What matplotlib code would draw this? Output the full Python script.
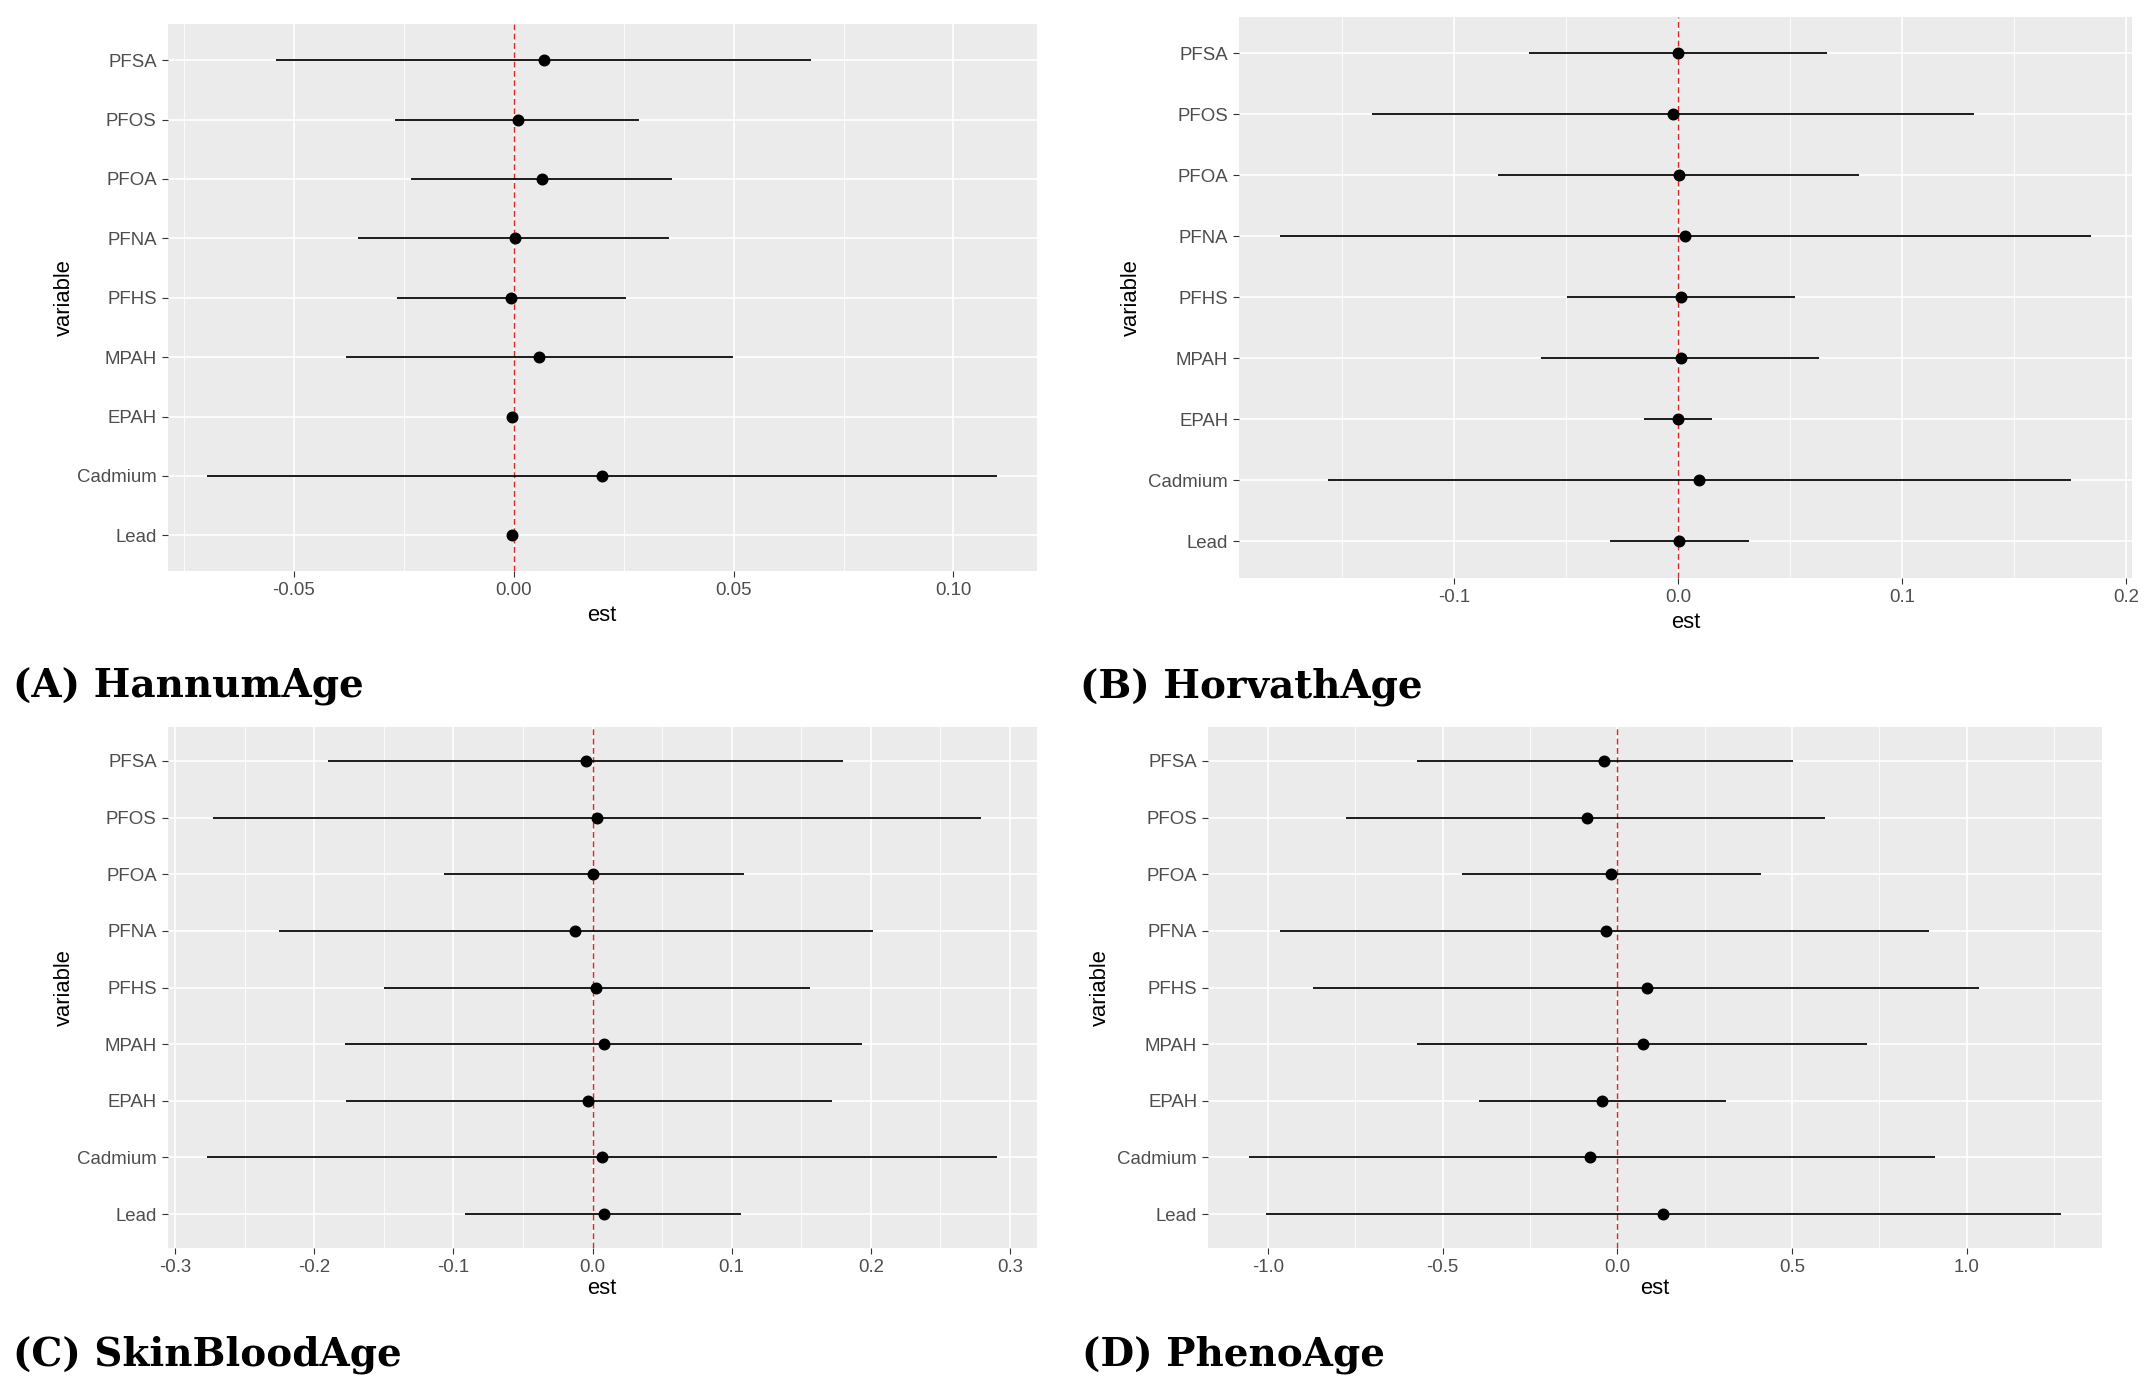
import matplotlib
matplotlib.use("Agg")
import matplotlib.pyplot as plt
from matplotlib.ticker import MultipleLocator, FormatStrFormatter
import numpy as np

plt.rcParams['axes.unicode_minus'] = False

# ---------------- data ----------------
variables = ["PFSA", "PFOS", "PFOA", "PFNA", "PFHS", "MPAH", "EPAH", "Cadmium", "Lead"]

hannum_est = [0.0068, 0.0009, 0.0064, 0.0003, -0.0006, 0.0058, -0.0003, 0.0202, -0.0003]
hannum_lo = [-0.0540, -0.0269, -0.0233, -0.0353, -0.0264, -0.0381, -0.0008, -0.0697, -0.0008]
hannum_hi = [0.0675, 0.0286, 0.0361, 0.0353, 0.0256, 0.0498, 0.0003, 0.1100, 0.0003]

horvath_est = [0.0000, -0.0021, 0.0006, 0.0031, 0.0012, 0.0012, 0.0000, 0.0092, 0.0006]
horvath_lo = [-0.0664, -0.1364, -0.0804, -0.1777, -0.0495, -0.0612, -0.0153, -0.1563, -0.0303]
horvath_hi = [0.0664, 0.1321, 0.0807, 0.1844, 0.0520, 0.0630, 0.0150, 0.1752, 0.0315]

skinblood_est = [-0.0044, 0.0030, 0.0005, -0.0128, 0.0025, 0.0079, -0.0030, 0.0069, 0.0079]
skinblood_lo = [-0.190, -0.273, -0.107, -0.225, -0.1496, -0.1778, -0.1768, -0.277, -0.0919]
skinblood_hi = [0.180, 0.279, 0.1086, 0.2015, 0.1565, 0.194, 0.1723, 0.291, 0.1067]

pheno_est = [-0.039, -0.088, -0.018, -0.033, 0.0845, 0.073, -0.043, -0.077, 0.132]
pheno_lo = [-0.574, -0.776, -0.444, -0.965, -0.870, -0.574, -0.397, -1.055, -1.004]
pheno_hi = [0.503, 0.595, 0.411, 0.892, 1.035, 0.715, 0.312, 0.908, 1.271]

panel_titles = ["(A) HannumAge", "(B) HorvathAge", "(C) SkinBloodAge", "(D) PhenoAge"]
x_major_steps = [0.05, 0.1, 0.1, 0.5]
x_formats = ["%.2f", "%.1f", "%.1f", "%.1f"]
x_label = "est"
y_label = "variable"

# ---------------- layout (pixels) ----------------
W, H = 2153, 1392
DPI = 100
# (left, top, right, bottom) of plotting panels
panel_px = [
    (167.5, 24.5, 1037, 571),
    (1239, 16.5, 2132, 578),
    (167.5, 727, 1037, 1248),
    (1208, 727, 2102, 1248),
]
ylabel_x_px = [64, 1131, 64, 1100]
xlabel_y_px = [616, 622, 1288, 1288]
title_px = [(13, 698), (1080, 698), (13, 1365), (1082, 1365)]

series = [
    (hannum_est, hannum_lo, hannum_hi),
    (horvath_est, horvath_lo, horvath_hi),
    (skinblood_est, skinblood_lo, skinblood_hi),
    (pheno_est, pheno_lo, pheno_hi),
]

fig = plt.figure(figsize=(W / DPI, H / DPI), dpi=DPI)
fig.patch.set_facecolor("white")

sans = ["Liberation Sans", "DejaVu Sans"]
tick_col = "#4D4D4D"

n = len(variables)
ypos = np.arange(n)[::-1]  # PFSA on top

for i, ((l, t, r, b), (est, lo, hi)) in enumerate(zip(panel_px, series)):
    ax = fig.add_axes([l / W, 1 - b / H, (r - l) / W, (b - t) / H])
    ax.set_facecolor("#EBEBEB")
    for s in ax.spines.values():
        s.set_visible(False)

    est = np.asarray(est); lo = np.asarray(lo); hi = np.asarray(hi)
    dmin, dmax = lo.min(), hi.max()
    rng = dmax - dmin
    ax.set_xlim(dmin - 0.05 * rng, dmax + 0.05 * rng)
    ax.set_ylim(-0.6, n - 1 + 0.6)

    step = x_major_steps[i]
    ax.xaxis.set_major_locator(MultipleLocator(step))
    ax.xaxis.set_minor_locator(MultipleLocator(step / 2))
    ax.xaxis.set_major_formatter(FormatStrFormatter(x_formats[i]))
    ax.set_yticks(ypos)
    ax.set_yticklabels(variables)

    ax.grid(which="major", color="white", linewidth=1.2, zorder=0)
    ax.grid(which="minor", axis="x", color="white", linewidth=0.6, zorder=0)
    ax.set_axisbelow(True)

    ax.tick_params(axis="both", which="major", length=4.2, width=0.8,
                   color="#333333", labelcolor=tick_col, labelsize=13.4, pad=3.6)
    ax.tick_params(axis="x", which="minor", length=0)
    for lab in ax.get_xticklabels() + ax.get_yticklabels():
        lab.set_fontfamily(sans)

    ax.axvline(0, color="#D42A2A", linewidth=1.05, linestyle=(0, (4.0, 2.4)), zorder=2)
    ax.hlines(ypos, lo, hi, color="black", linewidth=1.25, zorder=3)
    ax.plot(est, ypos, "o", color="black", markersize=7.6, zorder=4)

    ax.set_xlabel(x_label, fontsize=15.8, fontfamily=sans, color="black")
    ax.set_ylabel(y_label, fontsize=15.8, fontfamily=sans, color="black")
    ax.xaxis.label.set_va("center")
    ax.yaxis.label.set_va("center")
    ax.xaxis.set_label_coords(0.5, (b - xlabel_y_px[i]) / (b - t))
    ax.yaxis.set_label_coords((ylabel_x_px[i] - l) / (r - l), 0.5)

    tx, ty = title_px[i]
    fig.text(tx / W, 1 - ty / H, panel_titles[i], fontsize=28,
             fontfamily="DejaVu Serif", fontweight="bold", ha="left",
             va="baseline", color="black")

fig.savefig("out.png", dpi=DPI, facecolor="white")
